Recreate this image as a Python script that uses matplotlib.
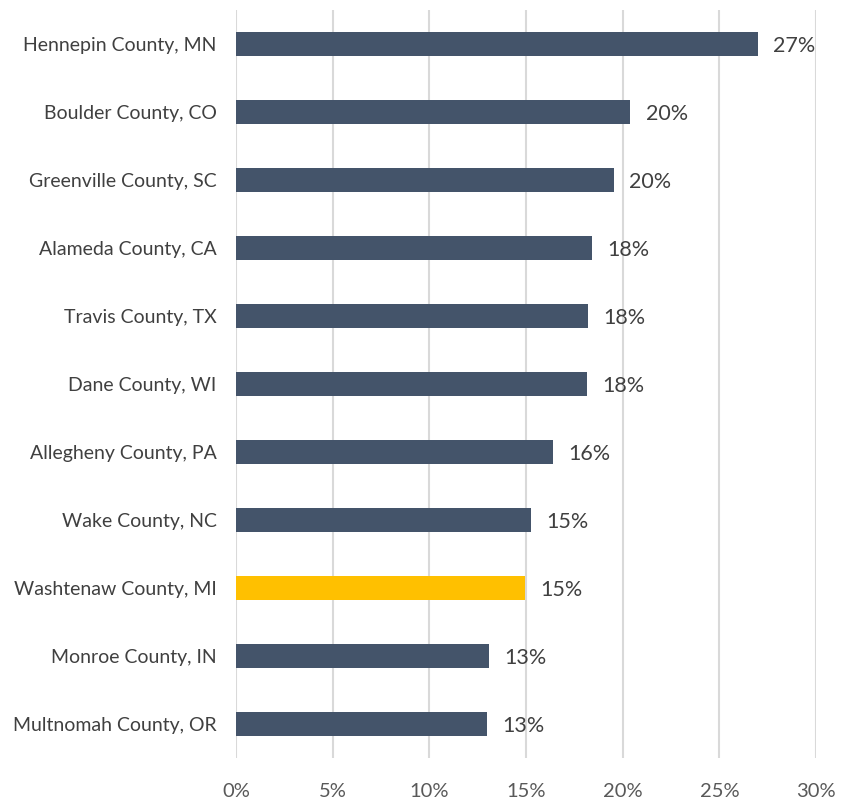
import matplotlib
matplotlib.use("Agg")
import matplotlib.pyplot as plt
import matplotlib.ticker as ticker

counties = [
    "Hennepin County, MN", "Boulder County, CO", "Greenville County, SC",
    "Alameda County, CA", "Travis County, TX", "Dane County, WI",
    "Allegheny County, PA", "Wake County, NC", "Washtenaw County, MI",
    "Monroe County, IN", "Multnomah County, OR",
]
values = [27.0, 20.4, 19.55, 18.4, 18.2, 18.15, 16.4, 15.25, 14.95, 13.1, 13.0]
value_labels = ["27%", "20%", "20%", "18%", "18%", "18%", "16%", "15%", "15%", "13%", "13%"]
highlight = "Washtenaw County, MI"

BAR = "#44546A"
HIGHLIGHT = "#FFC000"
TEXT = "#404040"

plt.rcParams["font.family"] = ["Lato", "DejaVu Sans"]

fig = plt.figure(figsize=(8.53, 8.02), dpi=100)
ax = fig.add_axes([0.2767, 0.0549, 0.680, 0.9327])

ypos = list(range(len(counties)))
colors = [HIGHLIGHT if c == highlight else BAR for c in counties]
ax.barh(ypos, values, height=0.35, color=colors, zorder=3)

for y, v, lab in zip(ypos, values, value_labels):
    ax.annotate(lab, xy=(v, y), xytext=(11, -1.5), textcoords="offset points",
                ha="left", va="center", fontsize=15.5, color=TEXT)

ax.set_ylim(len(counties) - 0.5, -0.5)
ax.set_xlim(0, 30)
ax.set_yticks(ypos)
ax.set_yticklabels(counties, fontsize=14, color=TEXT)
ax.set_xticks(range(0, 31, 5))
ax.xaxis.set_major_formatter(ticker.FuncFormatter(lambda v, _: f"{int(v)}%"))
ax.tick_params(axis="x", labelsize=14.5, colors="#595959", length=0, pad=18)
ax.tick_params(axis="y", length=0, pad=14)
ax.grid(axis="x", color="#D9D9D9", lw=1.5, zorder=0)
for s in ax.spines.values():
    s.set_visible(False)

fig.savefig("out.png", dpi=100)
